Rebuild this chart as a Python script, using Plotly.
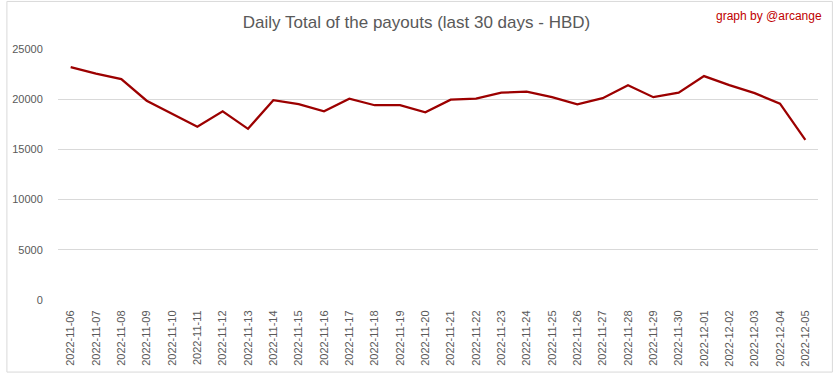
import plotly.graph_objects as go

dates = ["2022-11-06", "2022-11-07", "2022-11-08", "2022-11-09", "2022-11-10",
         "2022-11-11", "2022-11-12", "2022-11-13", "2022-11-14", "2022-11-15",
         "2022-11-16", "2022-11-17", "2022-11-18", "2022-11-19", "2022-11-20",
         "2022-11-21", "2022-11-22", "2022-11-23", "2022-11-24", "2022-11-25",
         "2022-11-26", "2022-11-27", "2022-11-28", "2022-11-29", "2022-11-30",
         "2022-12-01", "2022-12-02", "2022-12-03", "2022-12-04", "2022-12-05"]
payouts = [23200, 22550, 22000, 19850, 18550,
           17250, 18800, 17050, 19900, 19500,
           18800, 20050, 19400, 19400, 18700,
           19950, 20050, 20650, 20750, 20200,
           19500, 20100, 21400, 20200, 20650,
           22300, 21400, 20600, 19550, 15950]
y_ticks = [0, 5000, 10000, 15000, 20000, 25000]
y_ticktext = ["0", "5000", "10000", "15000", "20000", "25000"]

FONT = "Liberation Sans, Arial, sans-serif"
W, H = 833, 379
L, R, T, B = 52, 15, 49, 74
pw, ph = W - L - R, H - T - B

fig = go.Figure()
fig.add_trace(go.Scatter(
    x=list(range(len(dates))), y=payouts, mode="lines",
    line=dict(color="#9c0000", width=2.25), hoverinfo="y"
))

fig.update_layout(
    width=W, height=H,
    margin=dict(l=L, r=R, t=T, b=B),
    paper_bgcolor="white", plot_bgcolor="white",
    showlegend=False,
    font=dict(family=FONT, color="#595959"),
    title=dict(text="Daily Total of the payouts (last 30 days - HBD)",
               x=0.5, xref="container", xanchor="center",
               y=1 - 22 / H, yref="container", yanchor="middle",
               font=dict(size=17, color="#595959", family=FONT)),
    xaxis=dict(
        tickmode="array", tickvals=list(range(len(dates))), ticktext=dates,
        range=[-0.5, len(dates) - 0.5], tickangle=-90,
        showgrid=False, zeroline=False, showline=False,
        ticks="outside", ticklen=5, tickcolor="rgba(0,0,0,0)",
        tickfont=dict(size=11, color="#595959", family=FONT),
    ),
    yaxis=dict(
        range=[0, 25000], tickmode="array", tickvals=y_ticks, ticktext=y_ticktext,
        showgrid=True, gridcolor="#d9d9d9", gridwidth=1,
        zeroline=False, showline=False,
        ticks="outside", ticklen=12, tickcolor="rgba(0,0,0,0)",
        tickfont=dict(size=11, color="#595959", family=FONT),
    ),
    annotations=[dict(
        text="graph by @arcange", xref="paper", yref="paper",
        x=(824 - L) / pw, y=(H - B - 15) / ph,
        xanchor="right", yanchor="middle", showarrow=False,
        font=dict(size=12, color="#c00000", family=FONT),
    )],
    shapes=[dict(
        type="rect", xref="paper", yref="paper",
        x0=(0.5 - L) / pw, x1=(W - 0.5 - L) / pw,
        y0=-(B - 0.5) / ph, y1=1 + (T - 0.5) / ph,
        line=dict(color="#d9d9d9", width=1), fillcolor="rgba(0,0,0,0)",
        layer="above",
    )],
)

fig.write_html("out.html", config={"displayModeBar": False},
               post_script="document.body.style.margin='0';document.body.style.padding='0';")
